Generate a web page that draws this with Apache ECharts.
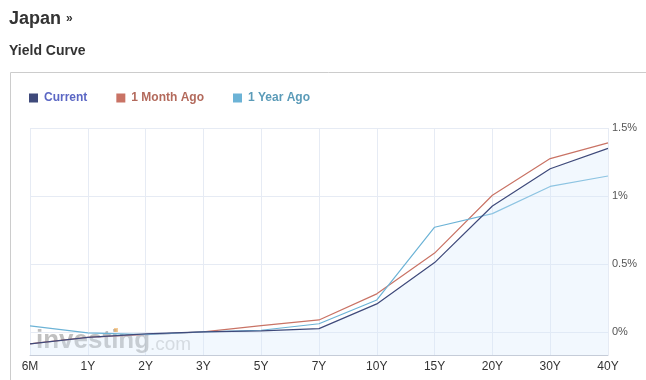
<!DOCTYPE html>
<html>
<head>
<meta charset="utf-8">
<script src="https://cdn.jsdelivr.net/npm/echarts@6/dist/echarts.min.js"></script>
<style>
html,body{margin:0;padding:0;background:#fff;}
#c{width:646px;height:380px;}
</style>
</head>
<body>
<div id="c"></div>
<script>
var categories = ['6M','1Y','2Y','3Y','5Y','7Y','10Y','15Y','20Y','30Y','40Y'];
var currentYield = [-0.088, -0.04, -0.015, 0.0, 0.008, 0.024, 0.206, 0.51, 0.926, 1.20, 1.35];
var monthAgoYield = [-0.088, -0.04, -0.02, 0.0, 0.046, 0.088, 0.28, 0.58, 1.005, 1.275, 1.39];
var yearAgoYield = [0.044, -0.007, -0.02, 0.0, 0.012, 0.06, 0.235, 0.77, 0.87, 1.07, 1.147];
var yTicks = [0, 0.5, 1, 1.5];

var chart = echarts.init(document.getElementById('c'), null, {renderer:'canvas'});
var font = '"Liberation Sans", Arial, Helvetica, sans-serif';
chart.setOption({
  animation: false,
  textStyle: {fontFamily: font},
  title: [
    {text: '{a|Japan} {b|»}', left: 9, top: 10, padding: 0,
     textStyle: {rich: {a: {fontSize: 18, fontWeight: 'bold', color: '#333', fontFamily: font},
                        b: {fontSize: 12, color: '#333', fontFamily: font}}}},
    {text: 'Yield Curve', left: 9, top: 44, padding: 0,
     textStyle: {fontSize: 14, fontWeight: 'bold', color: '#333', fontFamily: font}}
  ],
  graphic: [
    {type: 'rect', shape: {x: 10.5, y: 72.5, width: 660, height: 340}, style: {fill: 'none', stroke: '#cccccc', lineWidth: 1}, z: -10},
    {type: 'text', left: 36, top: 328, z: 1, style: {text: 'investing', font: 'bold 26px ' + font, fill: 'rgba(140,140,140,0.55)'}},
    {type: 'text', left: 150, top: 335, z: 1, style: {text: '.com', font: '19px ' + font, fill: 'rgba(170,170,170,0.5)'}},
    {type: 'rect', left: 114, top: 328, z: 1, shape: {width: 4, height: 4}, style: {fill: 'rgba(240,170,80,0.6)'}}
  ],
  legend: {
    left: 24, top: 87, itemWidth: 9, itemHeight: 9, itemGap: 29, icon: 'rect',
    textStyle: {fontSize: 12, fontWeight: 'bold', fontFamily: font, padding: [0,0,0,1]},
    data: [
      {name: 'Current', textStyle: {color: '#5b67c4'}},
      {name: '1 Month Ago', textStyle: {color: '#b36a5c'}},
      {name: '1 Year Ago', textStyle: {color: '#5b9bb8'}}
    ]
  },
  grid: {left: 30, right: 38, top: 128, bottom: 25, containLabel: false},
  xAxis: {
    type: 'category', data: categories, boundaryGap: false,
    axisLine: {onZero: false, lineStyle: {color: '#c5ccd8', width: 1}},
    axisTick: {show: false},
    axisLabel: {color: '#333', fontSize: 12, margin: 6, fontFamily: font},
    splitLine: {show: true, interval: 0, lineStyle: {color: '#e6ebf4', width: 1}}
  },
  yAxis: {
    type: 'value', position: 'right', min: -0.17, max: 1.5,
    axisLine: {show: false}, axisTick: {show: false, customValues: yTicks},
    axisLabel: {customValues: yTicks, color: '#555', fontSize: 11, margin: 4, fontFamily: font,
      formatter: function(v){ return (Math.round(v*10)/10) + '%'; }},
    splitLine: {show: true, lineStyle: {color: '#e6ebf4', width: 1}}
  },
  series: [
    {name: 'Current', type: 'line', data: currentYield, symbol: 'none', z: 4,
     lineStyle: {color: '#3f4a7b', width: 1.2}, itemStyle: {color: '#3f4a7b'},
     areaStyle: {color: 'rgba(215,232,252,0.45)', origin: 'start'}},
    {name: '1 Month Ago', type: 'line', data: monthAgoYield, symbol: 'none', z: 3,
     lineStyle: {color: '#c97365', width: 1.2}, itemStyle: {color: '#c97365'}},
    {name: '1 Year Ago', type: 'line', data: yearAgoYield, symbol: 'none', z: 3,
     lineStyle: {color: '#6cb3d6', width: 1.2}, itemStyle: {color: '#6cb3d6'}}
  ]
});
</script>
</body>
</html>
